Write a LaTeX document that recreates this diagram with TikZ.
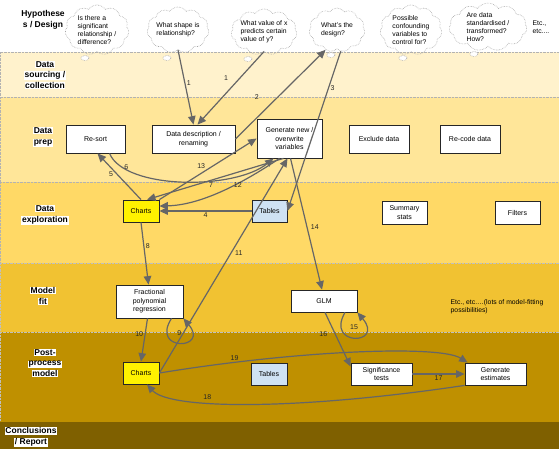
\documentclass[tikz,border=0pt]{standalone}
\usepackage{fontspec}
\setmainfont{Liberation Sans}
\usetikzlibrary{shapes.symbols,arrows.meta}

\definecolor{sourcing}{HTML}{FFF2CC}
\definecolor{prep}{HTML}{FFE699}
\definecolor{explore}{HTML}{FFD966}
\definecolor{modelfit}{HTML}{F1C232}
\definecolor{postproc}{HTML}{BF9000}
\definecolor{conclude}{HTML}{7F6000}
\definecolor{tablefill}{HTML}{CFE2F3}
\definecolor{arrowgray}{HTML}{666666}

\setlength{\fboxsep}{0.6pt}
\newcommand{\lanetext}[1]{\colorbox{white}{#1}}

\begin{document}
\begin{tikzpicture}[x=1pt, y=-1pt,
  lane/.style={align=center, font=\bfseries\fontsize{8.5}{10.5}\selectfont, inner sep=0pt},
  box/.style={shape=rectangle, draw=black!85, fill=white, line width=0.8pt, align=center, inner sep=1pt, font=\fontsize{7}{8.4}\selectfont},
  thought/.style={shape=cloud, cloud puffs=11, cloud puff arc=110, draw=gray!70, densely dotted, line width=0.6pt, align=left, inner xsep=-9pt, inner ysep=-7pt, font=\fontsize{6.8}{7.8}\selectfont},
  puff/.style={draw=gray!70, densely dotted, line width=0.6pt, fill=white},
  arrow/.style={color=arrowgray, line width=1.2pt, -{Triangle[length=8.5pt,width=7.5pt]}},
  num/.style={font=\fontsize{7}{8}\selectfont, inner sep=1.5pt, text=black!85}]

\useasboundingbox (0,0) rectangle (559,450);

% bands
\fill[white] (0,0) rectangle (559,52);
\filldraw[fill=sourcing, draw=gray!60, densely dotted] (0,52) rectangle (559,97);
\filldraw[fill=prep, draw=gray!60, densely dotted] (0,97) rectangle (559,182);
\filldraw[fill=explore, draw=gray!60, densely dotted] (0,182) rectangle (559,263);
\filldraw[fill=modelfit, draw=gray!50, densely dotted] (0,263) rectangle (559,332);
\filldraw[fill=postproc, draw=gray!50, densely dotted] (0,332) rectangle (559,422);
\fill[conclude] (0,422) rectangle (559,449);

% lane titles
\node (hypLane) at (43,20) [lane] {Hypothese\\s / Design};

\node (sourceLane) at (45,75) [lane] {\lanetext{Data}\\\lanetext{sourcing /}\\\lanetext{collection}};

\node (prepLane) at (43,137) [lane] {\lanetext{Data}\\\lanetext{prep}};

\node (exploreLane) at (45,215) [lane] {\lanetext{Data}\\\lanetext{exploration}};

\node (fitLane) at (43,296) [lane] {\lanetext{Model}\\\lanetext{fit}};

\node (postLane) at (45,363) [lane] {\lanetext{Post-}\\\lanetext{process}\\\lanetext{model}};

\node (concludeLane) at (31,437) [lane] {\lanetext{Conclusions}\\\lanetext{/ Report}};

% thought clouds
\draw[puff] (85,58) ellipse (4pt and 2.5pt);
\draw[puff] (167,58) ellipse (4pt and 2.5pt);
\draw[puff] (248,59) ellipse (4pt and 2.5pt);
\draw[puff] (331,55) ellipse (4pt and 2.5pt);
\draw[puff] (403,58) ellipse (4pt and 2.5pt);
\draw[puff] (474,54) ellipse (4pt and 2.5pt);

\node (hypSignif) at (97,30) [thought, minimum width=64pt, minimum height=50pt] {Is there a\\significant\\relationship /\\difference?};

\node (hypShape) at (178,30) [thought, minimum width=62pt, minimum height=46pt] {What shape is\\relationship?};

\node (hypValue) at (264,32) [thought, minimum width=66pt, minimum height=46pt] {What value of x\\predicts certain\\value of y?};

\node (hypDesign) at (337,30) [thought, minimum width=56pt, minimum height=44pt] {What's the\\design?};

\node (hypConfound) at (411,30) [thought, minimum width=62pt, minimum height=50pt] {Possible\\confounding\\variables to\\control for?};

\node (hypTransform) at (488,27) [thought, minimum width=78pt, minimum height=48pt] {Are data\\standardised /\\transformed?\\How?};

\node (hypEtc) at (541,27) [align=left, font=\fontsize{6.8}{7.8}\selectfont, inner sep=0pt] {Etc.,\\etc....};

% data prep
\node (resort) at (95.5,139) [box, minimum width=59pt, minimum height=28pt] {Re-sort};

\node (describe) at (193.5,139) [box, minimum width=83pt, minimum height=28pt] {Data description /\\renaming};

\node (generate) at (289.5,138.5) [box, minimum width=65pt, minimum height=39pt] {Generate new /\\overwrite\\variables};

\node (exclude) at (379,139) [box, minimum width=60pt, minimum height=28pt] {Exclude data};

\node (recode) at (470,139) [box, minimum width=60pt, minimum height=28pt] {Re-code data};

% data exploration
\node (chartsA) at (141,211) [box, fill=yellow, minimum width=36pt, minimum height=22pt] {Charts};

\node (tablesA) at (269.5,211) [box, fill=tablefill, minimum width=35pt, minimum height=22pt] {Tables};

\node (summary) at (404.5,212.5) [box, minimum width=45pt, minimum height=23pt] {Summary\\stats};

\node (filters) at (517.5,212.5) [box, minimum width=45pt, minimum height=23pt] {Filters};

% model fit
\node (fracpoly) at (149.5,301.5) [box, minimum width=67pt, minimum height=33pt] {Fractional\\polynomial\\regression};

\node (glm) at (324,301) [box, minimum width=66pt, minimum height=22pt] {GLM};

\node (fitEtc) at (497,307) [align=left, font=\fontsize{6.8}{8}\selectfont, inner sep=0pt] {Etc., etc.\dots(lots of model-fitting\\possibilities)};

% post-process
\node (chartsB) at (141,373) [box, fill=yellow, minimum width=36pt, minimum height=22pt] {Charts};

\node (tablesB) at (269,374) [box, fill=tablefill, minimum width=36pt, minimum height=22pt] {Tables};

\node (sigtests) at (381.5,374) [box, minimum width=61pt, minimum height=22pt] {Significance\\tests};

\node (estimates) at (495.5,374) [box, minimum width=61pt, minimum height=22pt] {Generate\\estimates};

% numbered steps
\path [arrow]   (hypShape.south)  edge  node[num, pos=.44, right]  {1}  (describe.north)
  (hypValue.south)  edge  node[num, pos=.36, left=10pt]  {1}  ([xshift=4pt]describe.north)
  (describe.east)  edge  node[num, pos=.35, above left=6pt]  {2}  (hypDesign.240)
  (hypDesign.280)  edge  node[num, pos=.23, right]  {3}  (tablesA.east)
  (tablesA.west)  edge  node[num, below]  {4}  (chartsA.east)
  (chartsA.north)  edge  node[num, pos=.55, left=2pt]  {5}  ([xshift=2pt]resort.south)
  ([xshift=-6pt]generate.south)  edge  node[num, pos=.53, below]  {7}  ([xshift=6pt]chartsA.north)
  (chartsA.south)  edge  node[num, pos=.38, right]  {8}  ([xshift=-1pt]fracpoly.north)
  ([xshift=-2pt]fracpoly.south)  edge  node[num, pos=.36, left]  {10}  (chartsB.north)
  (chartsB.east)  edge  node[num, pos=.56, right=2pt]  {11}  ([xshift=-2pt]generate.south)
  (chartsA.north east)  edge  node[num, pos=.43, above=3pt]  {13}  (generate.west)
  ([xshift=1pt]generate.south)  edge  node[num, pos=.52, right=2pt]  {14}  ([xshift=-2pt]glm.north)
  ([xshift=1pt]glm.south)  edge  node[num, pos=.4, left=6pt]  {16}  ([yshift=-4pt]sigtests.north west)
  (sigtests.east)  edge  node[num, below]  {17}  (estimates.west);

\draw [arrow] ([xshift=14pt]resort.south) .. controls (125,190) and (235,190) .. node[num, pos=.15, right] {6} ([xshift=-16pt]generate.south);
\draw [arrow] ([xshift=-10pt]generate.south) .. controls (240,185) and (200,205) .. node[num, pos=.3, below left=0pt] {12} (chartsA.15);
\draw [arrow] ([xshift=22pt]fracpoly.south) .. controls (150,352) and (210,350) .. node[num, pos=.5, above=5pt] {9} (fracpoly.south east);
\draw [arrow] ([xshift=21pt]glm.south) .. controls (325,347) and (385,345) .. node[num, pos=.5, above=6pt] {15} (glm.south east);
\draw [arrow] (estimates.south west) .. controls (300,410) and (170,410) .. node[num, pos=.65, above] {18} ([xshift=6pt]chartsB.south);
\draw [arrow] (chartsB.east) .. controls (300,350) and (440,345) .. node[num, pos=.18, above] {19} ([xshift=3pt]estimates.north west);
\end{tikzpicture}
\end{document}
